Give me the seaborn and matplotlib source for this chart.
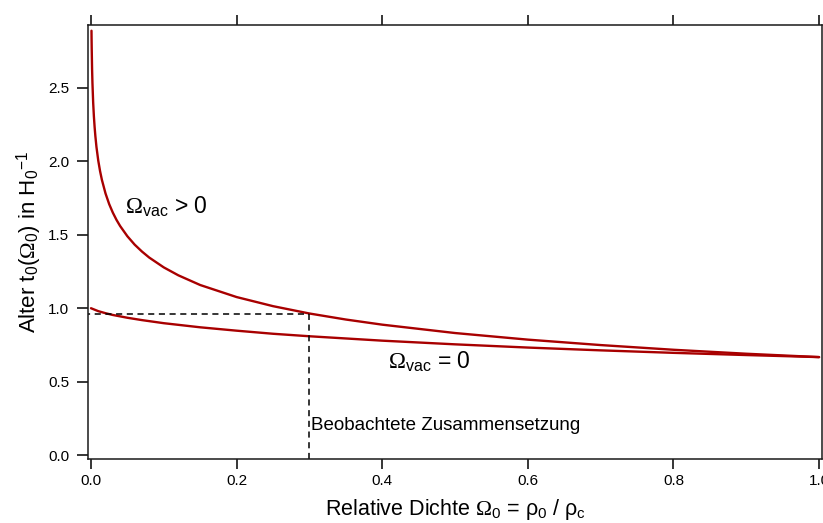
import numpy as np
import pandas as pd
import seaborn as sns
import matplotlib.pyplot as plt

# Omega_0 values and age t0 (units of 1/H0)
omega_vac = [0.0007, 0.0008, 0.001, 0.0015, 0.002, 0.003, 0.004, 0.005, 0.006, 0.0075,
             0.01, 0.0125, 0.015, 0.02, 0.025, 0.03, 0.035, 0.04, 0.05, 0.06,
             0.07, 0.08, 0.1, 0.12, 0.15, 0.2, 0.25, 0.3, 0.35, 0.4,
             0.5, 0.6, 0.7, 0.8, 0.9, 1.0]
age_vac = [2.89, 2.84, 2.77, 2.63, 2.535, 2.40, 2.306, 2.233, 2.173, 2.099,
           2.005, 1.933, 1.874, 1.781, 1.709, 1.651, 1.602, 1.560, 1.490, 1.433,
           1.386, 1.345, 1.278, 1.224, 1.158, 1.076, 1.014, 0.964, 0.923, 0.888,
           0.831, 0.786, 0.749, 0.717, 0.690, 0.667]

omega_open = [0.0, 0.01, 0.02, 0.03, 0.05, 0.07, 0.1, 0.15, 0.2, 0.25, 0.3,
              0.4, 0.5, 0.6, 0.7, 0.8, 0.9, 1.0]
age_open = [1.0, 0.980, 0.966, 0.954, 0.935, 0.919, 0.898, 0.870, 0.847, 0.826, 0.809,
            0.779, 0.754, 0.732, 0.713, 0.696, 0.681, 0.667]

omega_obs = 0.3
age_obs = 0.964

df_vac = pd.DataFrame({'omega': omega_vac, 'age': age_vac})
df_open = pd.DataFrame({'omega': omega_open, 'age': age_open})

sns.set_theme(style='white')
plt.rcParams['font.family'] = ['Liberation Sans', 'DejaVu Sans']
plt.rcParams['mathtext.fontset'] = 'custom'
plt.rcParams['mathtext.rm'] = 'Liberation Serif'
plt.rcParams['mathtext.sf'] = 'Liberation Sans'
plt.rcParams['mathtext.it'] = 'Liberation Serif:italic'
plt.rcParams['text.color'] = 'black'
plt.rcParams['axes.labelcolor'] = 'black'
plt.rcParams['xtick.color'] = 'black'
plt.rcParams['ytick.color'] = 'black'

red = '#a80000'
fig = plt.figure(figsize=(8.23, 5.23), dpi=100)
ax = fig.add_axes([88/823, 64/523, 734/823, 434/523])

sns.lineplot(data=df_vac, x='omega', y='age', ax=ax, color=red, linewidth=1.7)
sns.lineplot(data=df_open, x='omega', y='age', ax=ax, color=red, linewidth=1.7)

# observed composition
ax.plot([-0.01, omega_obs], [age_obs, age_obs], color='black', linestyle=(0, (4, 3)), linewidth=1.1)
ax.plot([omega_obs, omega_obs], [-0.03, age_obs], color='black', linestyle=(0, (4, 3)), linewidth=1.1)

ax.text(0.047, 1.69, r'$\Omega_{\mathsf{vac}}$ > 0', fontsize=16.5, va='center')
ax.text(0.408, 0.633, r'$\Omega_{\mathsf{vac}}$ = 0', fontsize=16.5, va='center')
ax.text(0.302, 0.204, 'Beobachtete Zusammensetzung', fontsize=13.5, va='center')

ax.set_xlim(-0.0041, 1.004)
ax.set_ylim(-0.027, 2.929)
ax.set_xticks([0, 0.2, 0.4, 0.6, 0.8, 1.0])
ax.set_yticks([0, 0.5, 1.0, 1.5, 2.0, 2.5])
ax.xaxis.set_major_formatter(plt.FormatStrFormatter('%.1f'))
ax.yaxis.set_major_formatter(plt.FormatStrFormatter('%.1f'))
ax.tick_params(axis='x', direction='out', length=7.5, width=1.1, top=True, labeltop=False,
               bottom=True, labelsize=11, pad=3.5)
ax.tick_params(axis='y', direction='out', length=8, width=1.1, left=True, right=False,
               labelsize=11, pad=5.5)
for s in ax.spines.values():
    s.set_color('#1a1a1a')
    s.set_linewidth(1.1)

ax.set_xlabel(r'Relative Dichte $\Omega_{\mathsf{0}}$ = $\mathsf{\rho_0}$ / $\mathsf{\rho_c}$',
              fontsize=15.5, labelpad=6)
ax.set_ylabel(r'Alter t$_{\mathsf{0}}$($\Omega_{\mathsf{0}}$) in H$_{\mathsf{0}}{}^{\mathsf{-1}}$',
              fontsize=16, labelpad=3)

fig.savefig('out.png', dpi=100)
